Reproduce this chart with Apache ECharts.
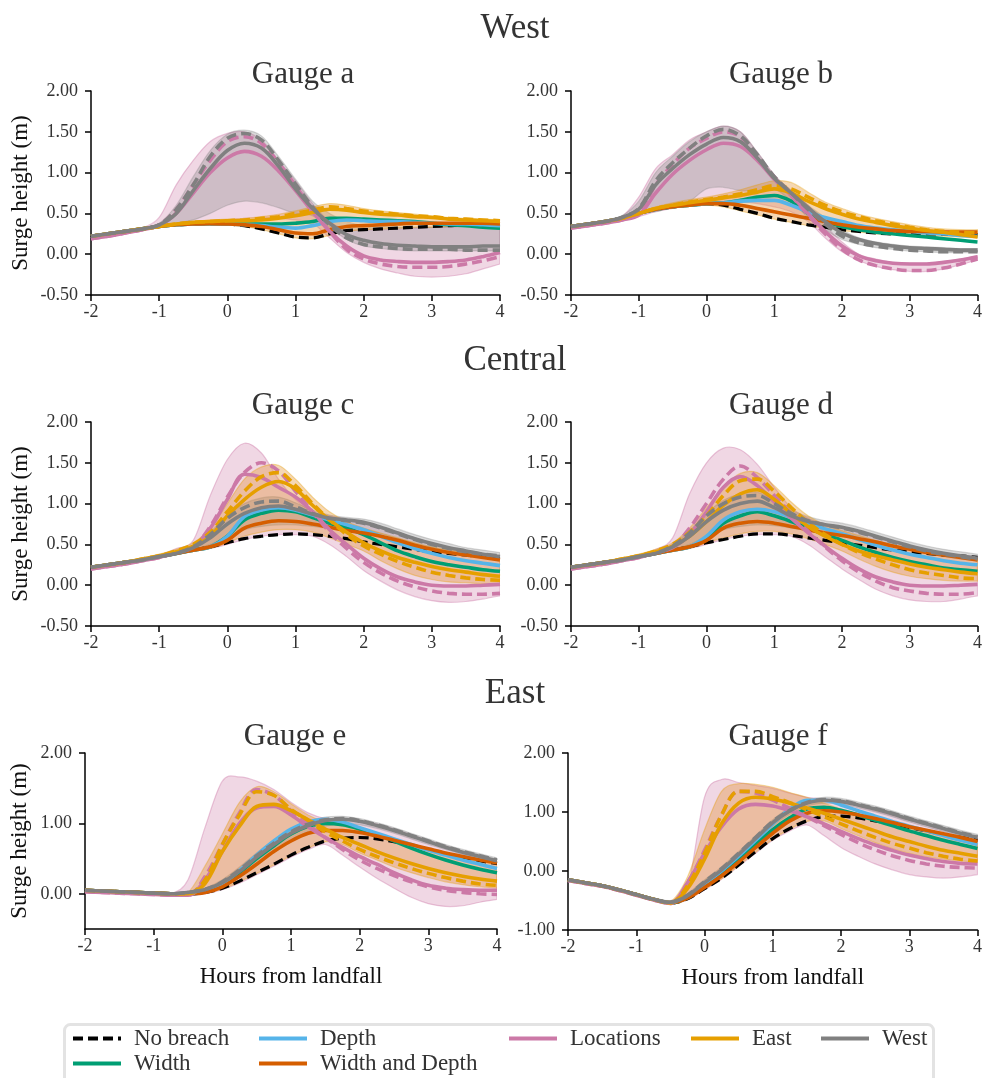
<!DOCTYPE html>
<html><head><meta charset="utf-8">
<script src="https://cdn.jsdelivr.net/npm/echarts@6/dist/echarts.min.js"></script>
<style>html,body{margin:0;padding:0;background:#fff}#c{width:985px;height:1078px}</style>
</head><body><div id="c"></div><script>
// ---------- data ----------
const hours = [-2,-1.75,-1.5,-1.25,-1,-0.75,-0.5,-0.25,0,0.25,0.5,0.75,1,1.25,1.5,1.75,2,2.25,2.5,2.75,3,3.25,3.5,3.75,4];
const xTicks = [-2,-1,0,1,2,3,4];
const yTicksMain = [-0.5,0,0.5,1,1.5,2];
const yTicksE = [0,1,2];
const yTicksF = [-1,0,1,2];
const rowTitles = ['West','Central','East'];
const gaugeTitles = ['Gauge a','Gauge b','Gauge c','Gauge d','Gauge e','Gauge f'];
const legendNames = ['No breach','Width','Depth','Width and Depth','Locations','East','West'];

// Gauge a
const a_noBreach = [0.22,0.25,0.28,0.31,0.34,0.36,0.37,0.375,0.37,0.35,0.31,0.26,0.21,0.2,0.25,0.29,0.3,0.31,0.32,0.33,0.34,0.35,0.36,0.36,0.37];
const a_width = [0.22,0.25,0.28,0.31,0.34,0.36,0.37,0.375,0.37,0.37,0.37,0.37,0.38,0.4,0.44,0.44,0.43,0.42,0.41,0.4,0.38,0.36,0.35,0.33,0.32];
const a_depth = [0.22,0.25,0.28,0.31,0.34,0.36,0.37,0.375,0.37,0.36,0.35,0.33,0.32,0.35,0.4,0.42,0.41,0.4,0.4,0.39,0.38,0.37,0.37,0.36,0.35];
const a_wd = [0.22,0.25,0.28,0.31,0.34,0.36,0.37,0.375,0.37,0.36,0.34,0.3,0.26,0.25,0.3,0.34,0.35,0.36,0.37,0.38,0.38,0.38,0.38,0.38,0.37];
const a_loc = [0.19,0.22,0.26,0.3,0.35,0.5,0.75,1.0,1.18,1.26,1.2,1.02,0.78,0.52,0.28,0.1,-0.02,-0.07,-0.09,-0.1,-0.1,-0.09,-0.07,-0.03,0.02];
const a_locDash = [0.19,0.22,0.26,0.3,0.36,0.55,0.85,1.15,1.38,1.44,1.36,1.12,0.84,0.55,0.28,0.06,-0.06,-0.12,-0.15,-0.16,-0.16,-0.15,-0.12,-0.08,-0.03];
const a_locLo = [0.18,0.21,0.25,0.29,0.33,0.36,0.38,0.4,0.42,0.44,0.45,0.44,0.42,0.38,0.2,0.02,-0.1,-0.18,-0.23,-0.27,-0.28,-0.27,-0.24,-0.18,-0.12];
const a_locHi = [0.2,0.23,0.27,0.32,0.45,0.85,1.15,1.38,1.48,1.5,1.4,1.15,0.9,0.62,0.4,0.3,0.3,0.3,0.31,0.32,0.33,0.33,0.34,0.34,0.35];
const a_east = [0.22,0.25,0.28,0.31,0.34,0.37,0.39,0.4,0.41,0.41,0.42,0.44,0.47,0.51,0.55,0.54,0.51,0.49,0.48,0.46,0.45,0.43,0.42,0.41,0.4];
const a_eastDash = [0.22,0.25,0.28,0.31,0.34,0.37,0.39,0.4,0.41,0.42,0.44,0.46,0.5,0.54,0.58,0.56,0.53,0.51,0.49,0.47,0.46,0.44,0.43,0.42,0.41];
const a_eastLo = [0.22,0.25,0.28,0.31,0.34,0.36,0.37,0.37,0.36,0.34,0.3,0.25,0.2,0.19,0.23,0.28,0.3,0.31,0.32,0.33,0.33,0.34,0.34,0.35,0.35];
const a_eastHi = [0.22,0.25,0.28,0.31,0.35,0.38,0.4,0.42,0.43,0.44,0.46,0.49,0.53,0.58,0.62,0.6,0.56,0.53,0.51,0.49,0.47,0.45,0.44,0.43,0.42];
const a_west = [0.22,0.25,0.28,0.31,0.36,0.5,0.78,1.05,1.27,1.36,1.3,1.08,0.8,0.56,0.38,0.24,0.17,0.13,0.11,0.1,0.09,0.09,0.09,0.1,0.1];
const a_westDash = [0.22,0.25,0.28,0.31,0.36,0.55,0.85,1.2,1.42,1.48,1.4,1.15,0.86,0.58,0.36,0.2,0.12,0.09,0.07,0.06,0.06,0.06,0.05,0.05,0.05];
const a_westLo = [0.22,0.25,0.28,0.31,0.34,0.38,0.42,0.5,0.6,0.65,0.63,0.57,0.5,0.47,0.33,0.18,0.1,0.07,0.05,0.04,0.04,0.04,0.04,0.04,0.04];
const a_westHi = [0.23,0.26,0.29,0.32,0.38,0.6,0.95,1.27,1.47,1.52,1.45,1.2,0.92,0.65,0.5,0.4,0.35,0.34,0.33,0.33,0.33,0.34,0.34,0.35,0.35];

// Gauge b
const b_noBreach = [0.34,0.37,0.4,0.44,0.5,0.55,0.58,0.6,0.62,0.6,0.55,0.5,0.44,0.4,0.36,0.33,0.3,0.28,0.26,0.25,0.25,0.25,0.25,0.24,0.24];
const b_width = [0.34,0.37,0.4,0.44,0.5,0.55,0.58,0.6,0.62,0.63,0.66,0.7,0.72,0.65,0.5,0.4,0.34,0.3,0.27,0.25,0.23,0.21,0.19,0.17,0.15];
const b_depth = [0.34,0.37,0.4,0.44,0.5,0.55,0.58,0.6,0.62,0.63,0.65,0.66,0.66,0.6,0.52,0.45,0.4,0.35,0.32,0.3,0.28,0.26,0.25,0.23,0.22];
const b_wd = [0.34,0.37,0.4,0.44,0.5,0.55,0.58,0.6,0.62,0.62,0.6,0.56,0.52,0.48,0.44,0.4,0.36,0.33,0.31,0.29,0.28,0.28,0.27,0.27,0.27];
const b_loc = [0.32,0.35,0.38,0.42,0.48,0.75,0.98,1.15,1.28,1.36,1.32,1.15,0.92,0.72,0.5,0.28,0.1,-0.02,-0.08,-0.11,-0.12,-0.12,-0.1,-0.07,-0.03];
const b_locDash = [0.32,0.35,0.38,0.42,0.5,0.85,1.1,1.3,1.42,1.5,1.44,1.2,0.95,0.72,0.48,0.25,0.06,-0.07,-0.14,-0.18,-0.2,-0.2,-0.17,-0.12,-0.06];
const b_locLo = [0.31,0.34,0.37,0.41,0.46,0.52,0.56,0.6,0.62,0.64,0.64,0.62,0.58,0.52,0.4,0.2,0.03,-0.08,-0.15,-0.19,-0.21,-0.21,-0.18,-0.13,-0.07];
const b_locHi = [0.35,0.38,0.41,0.46,0.7,1.05,1.22,1.4,1.5,1.57,1.5,1.25,0.97,0.78,0.6,0.35,0.15,0.0,-0.06,-0.1,-0.11,-0.11,-0.09,-0.06,-0.02];
const b_east = [0.34,0.37,0.4,0.44,0.5,0.56,0.6,0.63,0.66,0.69,0.72,0.76,0.8,0.75,0.65,0.56,0.49,0.43,0.39,0.35,0.32,0.29,0.27,0.24,0.21];
const b_eastDash = [0.34,0.37,0.4,0.44,0.5,0.56,0.6,0.64,0.67,0.7,0.74,0.79,0.84,0.8,0.7,0.6,0.52,0.46,0.41,0.37,0.33,0.3,0.28,0.27,0.26];
const b_eastLo = [0.33,0.36,0.39,0.43,0.49,0.54,0.57,0.59,0.6,0.58,0.53,0.48,0.43,0.39,0.35,0.32,0.29,0.27,0.25,0.24,0.23,0.23,0.22,0.21,0.2];
const b_eastHi = [0.35,0.38,0.41,0.45,0.51,0.58,0.63,0.67,0.7,0.74,0.79,0.85,0.9,0.88,0.76,0.64,0.56,0.49,0.44,0.4,0.36,0.33,0.31,0.3,0.3];
const b_west = [0.34,0.37,0.4,0.45,0.55,0.85,1.05,1.22,1.35,1.43,1.38,1.18,0.93,0.75,0.57,0.4,0.26,0.18,0.13,0.1,0.08,0.07,0.06,0.05,0.05];
const b_westDash = [0.34,0.37,0.4,0.45,0.56,0.9,1.12,1.3,1.45,1.53,1.45,1.22,0.95,0.75,0.55,0.37,0.22,0.14,0.1,0.07,0.05,0.04,0.03,0.03,0.03];
const b_westLo = [0.34,0.37,0.4,0.44,0.5,0.52,0.58,0.65,0.8,0.82,0.78,0.78,0.8,0.65,0.45,0.3,0.18,0.12,0.08,0.06,0.04,0.03,0.02,0.02,0.02];
const b_westHi = [0.35,0.38,0.41,0.47,0.65,1.0,1.2,1.38,1.5,1.57,1.5,1.25,0.97,0.78,0.6,0.45,0.3,0.2,0.15,0.12,0.1,0.09,0.08,0.07,0.07];

// Gauge c
const c_noBreach = [0.22,0.25,0.28,0.31,0.35,0.39,0.43,0.47,0.52,0.57,0.6,0.62,0.63,0.62,0.6,0.57,0.53,0.5,0.47,0.44,0.41,0.39,0.37,0.35,0.33];
const c_width = [0.22,0.25,0.28,0.31,0.35,0.39,0.43,0.47,0.6,0.8,0.88,0.92,0.9,0.83,0.76,0.7,0.62,0.52,0.42,0.35,0.29,0.25,0.22,0.19,0.17];
const c_depth = [0.22,0.25,0.28,0.31,0.35,0.39,0.43,0.47,0.6,0.84,0.92,0.95,0.92,0.86,0.8,0.74,0.68,0.6,0.52,0.45,0.39,0.34,0.3,0.27,0.24];
const c_wd = [0.22,0.25,0.28,0.31,0.35,0.39,0.43,0.47,0.55,0.7,0.76,0.79,0.78,0.75,0.71,0.67,0.64,0.6,0.55,0.49,0.44,0.4,0.37,0.34,0.31];
const c_loc = [0.2,0.23,0.26,0.3,0.34,0.4,0.47,0.7,1.05,1.36,1.32,1.2,1.08,0.9,0.68,0.5,0.33,0.2,0.1,0.04,0.0,-0.01,-0.01,0.0,0.01];
const c_locDash = [0.2,0.23,0.26,0.3,0.34,0.4,0.47,0.72,1.08,1.38,1.5,1.4,1.15,0.9,0.65,0.45,0.28,0.15,0.05,-0.02,-0.07,-0.1,-0.11,-0.11,-0.1];
const c_locLo = [0.2,0.23,0.26,0.3,0.34,0.38,0.43,0.45,0.5,0.56,0.6,0.62,0.62,0.6,0.5,0.35,0.18,0.05,-0.06,-0.14,-0.19,-0.21,-0.2,-0.17,-0.13];
const c_locHi = [0.23,0.26,0.29,0.33,0.37,0.45,0.55,1.1,1.54,1.74,1.62,1.3,1.05,0.9,0.85,0.81,0.78,0.72,0.65,0.58,0.52,0.46,0.42,0.38,0.35];
const c_east = [0.22,0.25,0.28,0.32,0.36,0.41,0.48,0.6,0.85,1.05,1.2,1.27,1.18,0.98,0.8,0.65,0.52,0.42,0.34,0.28,0.23,0.19,0.16,0.13,0.11];
const c_eastDash = [0.22,0.25,0.28,0.32,0.36,0.42,0.5,0.65,0.9,1.15,1.33,1.38,1.22,1.0,0.8,0.62,0.48,0.38,0.29,0.22,0.16,0.12,0.09,0.07,0.06];
const c_eastLo = [0.21,0.24,0.27,0.3,0.34,0.38,0.42,0.45,0.52,0.6,0.65,0.68,0.68,0.65,0.58,0.5,0.42,0.3,0.2,0.12,0.07,0.04,0.03,0.02,0.02];
const c_eastHi = [0.23,0.26,0.29,0.33,0.38,0.44,0.52,0.7,1.0,1.3,1.45,1.47,1.3,1.08,0.9,0.78,0.7,0.64,0.58,0.52,0.47,0.43,0.4,0.37,0.35];
const c_west = [0.22,0.25,0.28,0.31,0.35,0.39,0.46,0.58,0.75,0.88,0.95,0.97,0.93,0.87,0.82,0.8,0.77,0.71,0.64,0.57,0.51,0.46,0.42,0.38,0.35];
const c_westDash = [0.22,0.25,0.28,0.31,0.35,0.39,0.47,0.62,0.82,0.95,1.02,1.03,0.96,0.88,0.82,0.79,0.76,0.7,0.63,0.56,0.5,0.45,0.41,0.38,0.36];
const c_westLo = [0.21,0.24,0.27,0.3,0.34,0.38,0.44,0.5,0.6,0.68,0.72,0.74,0.74,0.72,0.7,0.7,0.68,0.63,0.57,0.51,0.46,0.41,0.37,0.34,0.31];
const c_westHi = [0.23,0.26,0.29,0.32,0.36,0.41,0.49,0.65,0.86,1.0,1.07,1.08,1.01,0.92,0.86,0.83,0.81,0.76,0.69,0.62,0.56,0.51,0.46,0.43,0.4];

// Gauge d
const d_noBreach = [0.22,0.25,0.28,0.31,0.35,0.39,0.43,0.47,0.52,0.56,0.6,0.63,0.63,0.61,0.58,0.55,0.52,0.49,0.46,0.43,0.41,0.39,0.37,0.36,0.34];
const d_width = [0.22,0.25,0.28,0.31,0.35,0.39,0.43,0.47,0.58,0.76,0.85,0.9,0.85,0.78,0.7,0.62,0.55,0.47,0.4,0.34,0.29,0.25,0.21,0.19,0.17];
const d_depth = [0.22,0.25,0.28,0.31,0.35,0.39,0.43,0.47,0.6,0.8,0.9,0.93,0.9,0.83,0.76,0.69,0.63,0.56,0.49,0.43,0.38,0.34,0.3,0.27,0.25];
const d_wd = [0.22,0.25,0.28,0.31,0.35,0.39,0.43,0.47,0.55,0.7,0.76,0.78,0.76,0.72,0.68,0.64,0.61,0.57,0.53,0.48,0.44,0.4,0.37,0.34,0.31];
const d_loc = [0.2,0.23,0.26,0.3,0.34,0.4,0.46,0.62,0.9,1.2,1.33,1.22,1.02,0.82,0.64,0.48,0.33,0.2,0.1,0.04,0.0,-0.01,-0.01,0.0,0.01];
const d_locDash = [0.2,0.23,0.26,0.3,0.34,0.4,0.47,0.7,1.0,1.3,1.46,1.32,1.1,0.88,0.66,0.47,0.3,0.16,0.05,-0.03,-0.07,-0.1,-0.11,-0.11,-0.09];
const d_locLo = [0.2,0.23,0.26,0.3,0.34,0.38,0.43,0.45,0.5,0.56,0.6,0.62,0.62,0.6,0.5,0.35,0.2,0.07,-0.05,-0.13,-0.18,-0.2,-0.2,-0.17,-0.13];
const d_locHi = [0.23,0.26,0.29,0.33,0.37,0.44,0.58,1.12,1.5,1.68,1.66,1.48,1.2,0.95,0.82,0.75,0.7,0.65,0.6,0.54,0.49,0.44,0.4,0.37,0.35];
const d_east = [0.22,0.25,0.28,0.32,0.36,0.41,0.48,0.6,0.78,0.98,1.12,1.17,1.05,0.88,0.72,0.6,0.5,0.42,0.36,0.31,0.26,0.22,0.19,0.16,0.14];
const d_eastDash = [0.22,0.25,0.28,0.32,0.36,0.42,0.5,0.65,0.85,1.1,1.28,1.3,1.15,0.95,0.77,0.62,0.5,0.4,0.32,0.25,0.19,0.15,0.12,0.09,0.08];
const d_eastLo = [0.21,0.24,0.27,0.3,0.34,0.38,0.42,0.45,0.52,0.58,0.63,0.66,0.66,0.63,0.57,0.5,0.42,0.32,0.23,0.16,0.11,0.08,0.06,0.05,0.05];
const d_eastHi = [0.23,0.26,0.29,0.33,0.38,0.44,0.52,0.7,0.95,1.2,1.37,1.38,1.22,1.02,0.85,0.74,0.67,0.61,0.55,0.5,0.45,0.41,0.38,0.36,0.34];
const d_west = [0.22,0.25,0.28,0.31,0.35,0.39,0.47,0.6,0.78,0.92,1.0,1.03,0.95,0.85,0.78,0.74,0.71,0.66,0.6,0.54,0.48,0.43,0.39,0.36,0.33];
const d_westDash = [0.22,0.25,0.28,0.31,0.35,0.39,0.48,0.64,0.85,1.0,1.08,1.1,1.0,0.88,0.79,0.74,0.7,0.65,0.59,0.53,0.47,0.42,0.38,0.35,0.32];
const d_westLo = [0.21,0.24,0.27,0.3,0.34,0.38,0.44,0.5,0.6,0.68,0.72,0.74,0.73,0.7,0.67,0.65,0.63,0.59,0.54,0.49,0.44,0.39,0.35,0.32,0.3];
const d_westHi = [0.23,0.26,0.29,0.32,0.36,0.41,0.5,0.67,0.88,1.04,1.12,1.14,1.04,0.92,0.84,0.79,0.76,0.71,0.65,0.59,0.53,0.48,0.44,0.41,0.38];

// Gauge e
const e_noBreach = [0.05,0.04,0.03,0.02,0.01,0.0,0.0,0.02,0.08,0.18,0.3,0.42,0.55,0.66,0.75,0.79,0.8,0.78,0.74,0.69,0.63,0.57,0.52,0.47,0.43];
const e_width = [0.05,0.04,0.03,0.02,0.01,0.0,0.0,0.03,0.12,0.3,0.5,0.68,0.85,0.96,1.0,0.98,0.92,0.84,0.75,0.65,0.56,0.48,0.41,0.35,0.3];
const e_depth = [0.05,0.04,0.03,0.02,0.01,0.0,0.0,0.03,0.14,0.33,0.55,0.75,0.92,1.02,1.06,1.02,0.94,0.86,0.78,0.7,0.62,0.55,0.48,0.42,0.36];
const e_wd = [0.05,0.04,0.03,0.02,0.01,0.0,0.0,0.02,0.1,0.25,0.42,0.6,0.75,0.86,0.9,0.9,0.87,0.82,0.76,0.7,0.64,0.58,0.53,0.48,0.44];
const e_loc = [0.03,0.02,0.01,0.0,-0.01,-0.02,-0.02,0.2,0.6,1.0,1.22,1.24,1.12,0.95,0.8,0.66,0.53,0.42,0.3,0.2,0.12,0.08,0.06,0.05,0.05];
const e_locDash = [0.03,0.02,0.01,0.0,-0.01,-0.02,-0.02,0.25,0.7,1.15,1.48,1.4,1.18,0.98,0.8,0.63,0.48,0.36,0.26,0.17,0.1,0.05,0.02,0.0,-0.01];
const e_locLo = [0.02,0.01,0.0,-0.01,-0.02,-0.03,-0.03,0.0,0.06,0.15,0.27,0.39,0.52,0.63,0.7,0.55,0.38,0.22,0.08,-0.05,-0.14,-0.18,-0.17,-0.12,-0.08];
const e_locHi = [0.05,0.04,0.03,0.02,0.01,0.0,0.2,0.95,1.6,1.66,1.6,1.48,1.3,1.15,1.07,1.06,1.04,0.99,0.92,0.84,0.76,0.68,0.6,0.54,0.48];
const e_east = [0.05,0.04,0.03,0.02,0.01,0.0,0.0,0.15,0.6,0.96,1.24,1.27,1.18,1.05,0.92,0.8,0.7,0.6,0.51,0.43,0.36,0.3,0.25,0.21,0.18];
const e_eastDash = [0.05,0.04,0.03,0.02,0.01,0.0,0.0,0.2,0.7,1.12,1.45,1.4,1.2,1.04,0.88,0.75,0.63,0.53,0.44,0.36,0.29,0.23,0.18,0.14,0.12];
const e_eastLo = [0.04,0.03,0.02,0.01,0.0,-0.01,-0.01,0.01,0.07,0.17,0.29,0.41,0.54,0.65,0.74,0.7,0.58,0.48,0.38,0.3,0.23,0.17,0.13,0.1,0.08];
const e_eastHi = [0.06,0.05,0.04,0.03,0.02,0.01,0.02,0.4,0.85,1.3,1.52,1.45,1.28,1.12,1.02,0.96,0.9,0.84,0.77,0.7,0.63,0.57,0.51,0.46,0.42];
const e_west = [0.05,0.04,0.03,0.02,0.01,0.0,0.02,0.06,0.16,0.32,0.52,0.7,0.86,0.97,1.04,1.06,1.03,0.97,0.9,0.82,0.74,0.66,0.59,0.53,0.47];
const e_westDash = [0.05,0.04,0.03,0.02,0.01,0.0,0.02,0.06,0.17,0.34,0.54,0.72,0.88,0.99,1.05,1.07,1.04,0.98,0.91,0.83,0.75,0.67,0.6,0.54,0.48];
const e_westLo = [0.04,0.03,0.02,0.01,0.0,-0.01,0.0,0.03,0.1,0.24,0.42,0.6,0.76,0.88,0.96,0.99,0.98,0.93,0.86,0.78,0.7,0.63,0.56,0.5,0.44];
const e_westHi = [0.06,0.05,0.04,0.03,0.02,0.01,0.03,0.08,0.2,0.38,0.58,0.76,0.92,1.03,1.09,1.1,1.07,1.01,0.94,0.86,0.78,0.7,0.63,0.57,0.51];

// Gauge f
const f_noBreach = [-0.15,-0.2,-0.25,-0.32,-0.4,-0.48,-0.54,-0.47,-0.3,-0.12,0.1,0.33,0.55,0.72,0.85,0.92,0.93,0.9,0.85,0.8,0.74,0.68,0.62,0.57,0.52];
const f_width = [-0.15,-0.2,-0.25,-0.32,-0.4,-0.48,-0.54,-0.45,-0.25,-0.05,0.2,0.45,0.7,0.9,1.05,1.08,1.03,0.95,0.86,0.77,0.68,0.6,0.52,0.45,0.38];
const f_depth = [-0.15,-0.2,-0.25,-0.32,-0.4,-0.48,-0.54,-0.44,-0.22,0.0,0.25,0.52,0.8,1.05,1.2,1.2,1.12,1.02,0.93,0.84,0.76,0.68,0.6,0.52,0.45];
const f_wd = [-0.15,-0.2,-0.25,-0.32,-0.4,-0.48,-0.54,-0.46,-0.28,-0.08,0.15,0.4,0.64,0.85,0.98,1.02,1.0,0.95,0.89,0.82,0.75,0.69,0.63,0.57,0.5];
const f_loc = [-0.16,-0.21,-0.26,-0.33,-0.41,-0.49,-0.55,-0.2,0.3,0.75,1.05,1.13,1.1,1.02,0.92,0.8,0.67,0.55,0.44,0.35,0.27,0.21,0.16,0.13,0.12];
const f_locDash = [-0.16,-0.21,-0.26,-0.33,-0.41,-0.49,-0.55,-0.2,0.35,0.95,1.35,1.32,1.2,1.06,0.92,0.77,0.62,0.48,0.36,0.26,0.18,0.12,0.08,0.06,0.05];
const f_locLo = [-0.17,-0.22,-0.27,-0.34,-0.42,-0.5,-0.56,-0.49,-0.32,-0.14,0.08,0.3,0.52,0.68,0.78,0.6,0.4,0.25,0.12,0.02,-0.06,-0.1,-0.12,-0.1,-0.06];
const f_locHi = [-0.14,-0.19,-0.24,-0.31,-0.39,-0.47,-0.5,-0.3,1.25,1.55,1.5,1.45,1.4,1.32,1.25,1.22,1.18,1.1,1.02,0.94,0.86,0.78,0.7,0.64,0.58];
const f_east = [-0.15,-0.2,-0.25,-0.32,-0.4,-0.48,-0.54,-0.3,0.2,0.8,1.15,1.25,1.22,1.15,1.07,0.98,0.88,0.78,0.68,0.58,0.5,0.42,0.35,0.3,0.25];
const f_eastDash = [-0.15,-0.2,-0.25,-0.32,-0.4,-0.48,-0.54,-0.25,0.3,0.95,1.35,1.35,1.26,1.16,1.04,0.92,0.8,0.68,0.57,0.47,0.39,0.31,0.25,0.2,0.17];
const f_eastLo = [-0.16,-0.21,-0.26,-0.33,-0.41,-0.49,-0.55,-0.48,-0.31,-0.13,0.09,0.32,0.54,0.71,0.84,0.85,0.72,0.6,0.48,0.38,0.3,0.24,0.2,0.17,0.15];
const f_eastHi = [-0.14,-0.19,-0.24,-0.31,-0.39,-0.47,-0.52,-0.1,0.7,1.35,1.48,1.47,1.42,1.33,1.25,1.15,1.05,0.96,0.88,0.8,0.72,0.66,0.6,0.55,0.5];
const f_west = [-0.15,-0.2,-0.25,-0.32,-0.4,-0.48,-0.53,-0.42,-0.2,0.02,0.28,0.55,0.82,1.02,1.15,1.2,1.18,1.12,1.05,0.97,0.88,0.8,0.72,0.64,0.57];
const f_westDash = [-0.15,-0.2,-0.25,-0.32,-0.4,-0.48,-0.53,-0.41,-0.18,0.04,0.3,0.57,0.84,1.03,1.16,1.21,1.19,1.13,1.06,0.98,0.89,0.81,0.73,0.65,0.58];
const f_westLo = [-0.17,-0.22,-0.27,-0.34,-0.42,-0.5,-0.56,-0.46,-0.25,-0.03,0.22,0.49,0.76,0.96,1.1,1.15,1.13,1.07,1.0,0.92,0.83,0.75,0.67,0.6,0.53];
const f_westHi = [-0.13,-0.18,-0.23,-0.3,-0.38,-0.46,-0.5,-0.38,-0.15,0.07,0.33,0.6,0.87,1.07,1.2,1.25,1.23,1.17,1.1,1.02,0.93,0.85,0.77,0.69,0.62];

// ---------- assemble ----------
const G = [
  {nb:a_noBreach,w:a_width,d:a_depth,wd:a_wd,l:a_loc,lD:a_locDash,lLo:a_locLo,lHi:a_locHi,e:a_east,eD:a_eastDash,eLo:a_eastLo,eHi:a_eastHi,ws:a_west,wsD:a_westDash,wsLo:a_westLo,wsHi:a_westHi},
  {nb:b_noBreach,w:b_width,d:b_depth,wd:b_wd,l:b_loc,lD:b_locDash,lLo:b_locLo,lHi:b_locHi,e:b_east,eD:b_eastDash,eLo:b_eastLo,eHi:b_eastHi,ws:b_west,wsD:b_westDash,wsLo:b_westLo,wsHi:b_westHi},
  {nb:c_noBreach,w:c_width,d:c_depth,wd:c_wd,l:c_loc,lD:c_locDash,lLo:c_locLo,lHi:c_locHi,e:c_east,eD:c_eastDash,eLo:c_eastLo,eHi:c_eastHi,ws:c_west,wsD:c_westDash,wsLo:c_westLo,wsHi:c_westHi},
  {nb:d_noBreach,w:d_width,d:d_depth,wd:d_wd,l:d_loc,lD:d_locDash,lLo:d_locLo,lHi:d_locHi,e:d_east,eD:d_eastDash,eLo:d_eastLo,eHi:d_eastHi,ws:d_west,wsD:d_westDash,wsLo:d_westLo,wsHi:d_westHi},
  {nb:e_noBreach,w:e_width,d:e_depth,wd:e_wd,l:e_loc,lD:e_locDash,lLo:e_locLo,lHi:e_locHi,e:e_east,eD:e_eastDash,eLo:e_eastLo,eHi:e_eastHi,ws:e_west,wsD:e_westDash,wsLo:e_westLo,wsHi:e_westHi},
  {nb:f_noBreach,w:f_width,d:f_depth,wd:f_wd,l:f_loc,lD:f_locDash,lLo:f_locLo,lHi:f_locHi,e:f_east,eD:f_eastDash,eLo:f_eastLo,eHi:f_eastHi,ws:f_west,wsD:f_westDash,wsLo:f_westLo,wsHi:f_westHi}
];
const FONT = 'Liberation Serif';
const C = {nb:'#000000', w:'#009E73', d:'#56B4E9', wd:'#D55E00', l:'#CC79A7', e:'#E69F00', ws:'#808080'};
const grids = [
  {left:91, top:91, width:409, height:204},
  {left:571, top:91, width:409, height:204},
  {left:91, top:422, width:409, height:204},
  {left:571, top:422, width:409, height:204},
  {left:85, top:753, width:412, height:176},
  {left:568, top:753, width:412, height:177}
];
const yRanges = [[-0.5,2],[-0.5,2],[-0.5,2],[-0.5,2],[-0.5,2],[-1,2]];
const yTickSets = [yTicksMain,yTicksMain,yTicksMain,yTicksMain,yTicksE,yTicksF];
const pts = arr => arr.map((v,i)=>[hours[i], v]);

// smooth open curve path through pixel points (Catmull-Rom, drawing only)
function curvePath(p, move){
  let s = (move ? 'M' : 'L') + p[0][0].toFixed(2) + ' ' + p[0][1].toFixed(2);
  const k = 1/6;
  for (let i=0;i<p.length-1;i++){
    const p0 = p[Math.max(i-1,0)], p1 = p[i], p2 = p[i+1], p3 = p[Math.min(i+2,p.length-1)];
    const c1x = p1[0] + (p2[0]-p0[0])*k, c1y = p1[1] + (p2[1]-p0[1])*k;
    const c2x = p2[0] - (p3[0]-p1[0])*k, c2y = p2[1] - (p3[1]-p1[1])*k;
    s += ' C' + c1x.toFixed(2)+' '+c1y.toFixed(2)+' '+c2x.toFixed(2)+' '+c2y.toFixed(2)+' '+p2[0].toFixed(2)+' '+p2[1].toFixed(2);
  }
  return s;
}

const series = [];
function band(gi, key, lo, hi, fill, edge){
  series.push({
    type:'custom', name:key+' range', xAxisIndex:gi, yAxisIndex:gi, coordinateSystem:'cartesian2d',
    silent:true, z:1, clip:true,
    data: hours.map((h,i)=>[h, lo[i], hi[i]]),
    encode:{x:0, y:[1,2]},
    renderItem:(params, api)=>{
      if (params.dataIndexInside !== 0) return null;
      const n = params.dataInsideLength;
      const top=[], bot=[];
      for (let i=0;i<n;i++){
        const x = api.value(0,i);
        top.push(api.coord([x, api.value(2,i)]));
        bot.push(api.coord([x, api.value(1,i)]));
      }
      bot.reverse();
      const d = curvePath(top, true) + ' ' + curvePath(bot, false) + ' Z';
      return {type:'path', shape:{pathData:d}, style:{fill:fill, stroke:edge, lineWidth:1.2}};
    }
  });
}
function line(gi, name, data, color, dashed, width){
  series.push({type:'line', name, xAxisIndex:gi, yAxisIndex:gi, data:pts(data), symbol:'none', smooth:0.35, z:2,
    itemStyle:{color}, lineStyle:{color, width:width||3.6, type: dashed ? [10,5] : 'solid', cap:'butt'}});
}
G.forEach((g,gi)=>{
  band(gi,'Locations',g.lLo,g.lHi,'rgba(204,121,167,0.3)','rgba(204,121,167,0.4)');
  band(gi,'West',g.wsLo,g.wsHi,'rgba(128,128,128,0.3)','rgba(128,128,128,0.3)');
  band(gi,'East',g.eLo,g.eHi,'rgba(225,140,40,0.35)','rgba(230,159,0,0.35)');
  line(gi,'No breach',g.nb,C.nb,true,3.2);
  line(gi,'Width',g.w,C.w,false);
  line(gi,'Depth',g.d,C.d,false);
  line(gi,'Width and Depth',g.wd,C.wd,false);
  line(gi,'Locations',g.l,C.l,false);
  line(gi,'Locations (dashed)',g.lD,C.l,true);
  line(gi,'East',g.e,C.e,false);
  line(gi,'East (dashed)',g.eD,C.e,true);
  line(gi,'West',g.ws,C.ws,false);
  line(gi,'West (dashed)',g.wsD,C.ws,true);
});

const xAxes = grids.map((g,gi)=>({
  type:'value', gridIndex:gi, min:xTicks[0], max:xTicks[xTicks.length-1], interval:1,
  axisLine:{show:true, onZero:false, lineStyle:{color:'#000', width:1.5}},
  axisTick:{show:true, length:6, lineStyle:{color:'#000', width:1.5}},
  axisLabel:{color:'#333', fontSize:18, fontFamily:FONT, margin:8, formatter:v=>String(v)},
  splitLine:{show:false},
  name: gi>=4 ? 'Hours from landfall' : '', nameLocation:'middle', nameGap:36,
  nameTextStyle:{fontSize:23, fontFamily:FONT, color:'#111'}
}));
const yAxes = grids.map((g,gi)=>{
  const t = yTickSets[gi];
  return {
    type:'value', gridIndex:gi, min:yRanges[gi][0], max:yRanges[gi][1],
    axisLine:{show:true, onZero:false, lineStyle:{color:'#000', width:1.5}},
    axisTick:{show:true, length:6, lineStyle:{color:'#000', width:1.5}, customValues:t},
    axisLabel:{color:'#333', fontSize:18, fontFamily:FONT, margin:13, customValues:t, formatter:v=>Number(v).toFixed(2)},
    splitLine:{show:false},
    name: gi%2===0 ? 'Surge height (m)' : '', nameLocation:'middle', nameGap: gi===4 ? 54 : 59, nameRotate:90,
    nameTextStyle:{fontSize:23, fontFamily:FONT, color:'#111'}
  };
});

const titleStyle = (size)=>({fontSize:size, fontFamily:FONT, fontWeight:'normal', color:'#333'});
const titles = [
  {text:rowTitles[0], left:510, top:6, textAlign:'center', textStyle:titleStyle(35)},
  {text:rowTitles[1], left:510, top:338, textAlign:'center', textStyle:titleStyle(35)},
  {text:rowTitles[2], left:510, top:671, textAlign:'center', textStyle:titleStyle(35)},
  {text:gaugeTitles[0], left:298, top:54, textAlign:'center', textStyle:titleStyle(31)},
  {text:gaugeTitles[1], left:776, top:54, textAlign:'center', textStyle:titleStyle(31)},
  {text:gaugeTitles[2], left:298, top:385, textAlign:'center', textStyle:titleStyle(31)},
  {text:gaugeTitles[3], left:776, top:385, textAlign:'center', textStyle:titleStyle(31)},
  {text:gaugeTitles[4], left:290, top:716, textAlign:'center', textStyle:titleStyle(31)},
  {text:gaugeTitles[5], left:773, top:716, textAlign:'center', textStyle:titleStyle(31)}
];

const legTxt = {fontSize:23, fontFamily:FONT, color:'#333', padding:[0,0,0,8]};
const legendPos = [
  {left:66, top:1022}, {left:66, top:1047},
  {left:252, top:1022}, {left:252, top:1047},
  {left:502, top:1022}, {left:684, top:1022}, {left:814, top:1022}
];
const legends = legendNames.map((nm,i)=>({
  left:legendPos[i].left, top:legendPos[i].top, orient:'horizontal', itemWidth:48, itemHeight:14,
  data:[nm], textStyle:legTxt, selectedMode:false, itemStyle:{opacity:0}, lineStyle:{width:4}
}));

const chart = echarts.init(document.getElementById('c'), null, {renderer:'canvas'});
chart.setOption({
  animation:false,
  backgroundColor:'#fff',
  title:titles,
  grid:grids,
  xAxis:xAxes,
  yAxis:yAxes,
  legend:legends,
  graphic:[{type:'rect', left:63, top:1023, z:-1, shape:{width:869, height:70, r:6},
    style:{fill:'#fff', stroke:'#e3e3e3', lineWidth:3}}],
  series
});
</script></body></html>
